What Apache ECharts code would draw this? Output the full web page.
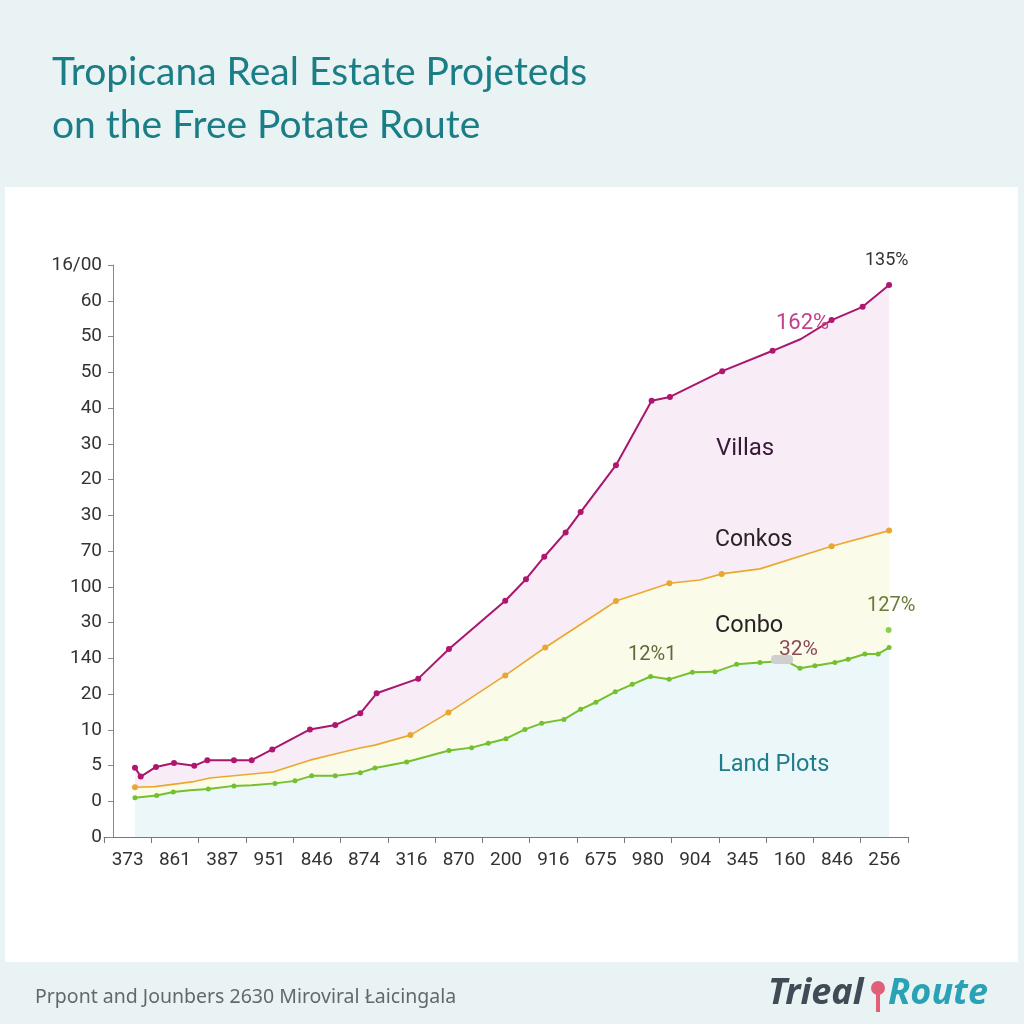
<!DOCTYPE html>
<html><head><meta charset="utf-8">
<script src="https://cdn.jsdelivr.net/npm/echarts@6/dist/echarts.min.js"></script>
<style>html,body{margin:0;padding:0;background:#eaf3f3;}#c{width:1024px;height:1024px;}</style>
</head><body><div id="c"></div>
<script>
const xLabels = ['373','861','387','951','846','874','316','870','200','916','675','980','904','345','160','846','256'];
const yLabels = ['0','0','5','10','20','140','30','100','70','30','20','30','40','50','50','60','16/00'];

// [x position in category units (0..17), value in tick units (0..16), marker 1/0]
const villas = [
 [0.655,1.94,1],[0.776,1.69,1],[1.099,1.96,1],[1.48,2.07,1],[1.909,1.99,1],[2.184,2.15,1],
 [2.748,2.15,1],[3.123,2.15,1],[3.558,2.45,1],[4.355,3.01,1],[4.89,3.13,1],[5.419,3.46,1],
 [5.765,4.02,1],[6.645,4.43,1],[7.294,5.26,1],[8.484,6.61,1],[8.922,7.21,1],[9.309,7.84,1],
 [9.761,8.52,1],[10.078,9.09,1],[10.825,10.40,1],[11.579,12.20,1],[11.966,12.31,1],
 [13.072,13.03,1],[14.137,13.60,1],[14.736,13.93,0],[15.385,14.46,1],[16.04,14.83,1],[16.60,15.44,1]
];
const condos = [
 [0.655,1.39,1],[1.078,1.41,0],[1.903,1.55,0],[2.241,1.65,0],[3.573,1.82,0],[4.355,2.15,0],
 [4.884,2.32,0],[5.412,2.49,0],[5.73,2.57,0],[6.48,2.85,1],[7.283,3.48,1],[8.484,4.52,1],
 [9.33,5.30,1],[10.486,6.30,0],[10.825,6.60,1],[11.955,7.10,1],[12.6,7.19,0],[13.06,7.36,1],
 [13.87,7.50,0],[15.385,8.13,1],[16.60,8.57,1]
];
const landPlots = [
 [0.655,1.10,1],[1.114,1.16,1],[1.465,1.26,1],[1.818,1.31,0],[2.205,1.34,1],[2.748,1.43,1],
 [3.123,1.45,0],[3.615,1.50,1],[4.038,1.57,1],[4.391,1.71,1],[4.89,1.71,1],[5.419,1.80,1],
 [5.729,1.93,1],[6.40,2.10,1],[7.294,2.42,1],[7.774,2.50,1],[8.125,2.62,1],[8.499,2.75,1],
 [8.901,3.01,1],[9.254,3.18,1],[9.725,3.29,1],[10.078,3.57,1],[10.40,3.77,1],[10.81,4.06,1],
 [11.17,4.27,1],[11.558,4.49,1],[11.95,4.41,1],[12.442,4.61,1],[12.918,4.62,1],[13.376,4.83,1],
 [13.87,4.88,1],[14.43,4.92,0],[14.715,4.72,1],[15.032,4.79,1],[15.455,4.88,1],[15.735,4.97,1],
 [16.088,5.12,1],[16.37,5.12,1],[16.60,5.30,1]
];
const landExtra = [[16.59,5.79]];

function toData(arr, size){
  return arr.map(p => ({value:[p[0],p[1]], symbolSize: p[2] ? size : 0}));
}

const chart = echarts.init(document.getElementById('c'));
const grid = {left:104, right:116, top:265, bottom:187};
const Z = 100;
chart.setOption({
  backgroundColor:'#eaf3f3',
  animation:false,
  graphic:[
    {type:'rect', z:-10, shape:{x:5,y:187,width:1013,height:775}, style:{fill:'#ffffff'}},
    {type:'text', left:52, top:53, style:{text:'Tropicana Real Estate Projeteds', fill:'#1b7d86', font:'39px Lato'}},
    {type:'text', left:52, top:106, style:{text:'on the Free Potate Route', fill:'#1b7d86', font:'39px Lato'}},
    {type:'text', left:35, top:987, style:{text:'Prpont and Jounbers 2630 Miroviral \u0141aicingala', fill:'#62686c', font:'19.5px "Noto Sans"'}},
    {type:'text', left:768, top:976, style:{text:'Trieal', fill:'#3f4c57', font:'italic bold 36px "Noto Sans"'}},
    {type:'text', left:888, top:976, style:{text:'Route', fill:'#2aa2b6', font:'italic bold 36px "Noto Sans"'}},
    {type:'circle', shape:{cx:878,cy:988,r:7}, style:{fill:'#e0607a'}},
    {type:'rect', shape:{x:876,y:993,width:4,height:19}, style:{fill:'#e0607a'}},
    {type:'text', z:Z, left:716, top:437, style:{text:'Villas', fill:'#3a1838', font:'24px Roboto'}},
    {type:'text', z:Z, left:715, top:529, style:{text:'Conkos', fill:'#2a2226', font:'23px Roboto'}},
    {type:'text', z:Z, left:715, top:614, style:{text:'Conbo', fill:'#2a2226', font:'23.5px Roboto'}},
    {type:'text', z:Z, left:718, top:753, style:{text:'Land Plots', fill:'#1f7d8a', font:'23.5px Roboto'}},
    {type:'text', z:Z, left:865, top:251, style:{text:'135%', fill:'#333333', font:'18px Roboto'}},
    {type:'text', z:Z, left:776, top:312, style:{text:'162%', fill:'#c2418a', font:'22px Roboto'}},
    {type:'text', z:Z, left:867, top:596, style:{text:'127%', fill:'#6b7a3a', font:'20px Roboto'}},
    {type:'text', z:Z, left:628, top:645, style:{text:'12%1', fill:'#5f6a35', font:'20px Roboto'}},
    {type:'rect', z:Z, shape:{x:771,y:655,width:22,height:9,r:4}, style:{fill:'#cfcfcf'}},
    {type:'text', z:Z, left:779, top:639, style:{text:'32%', fill:'#8a4a5a', font:'21px Roboto'}}
  ],
  grid: grid,
  xAxis:[
    {type:'category', data:xLabels, boundaryGap:true, position:'bottom',
     axisLine:{lineStyle:{color:'#777',width:1}}, axisTick:{show:true,length:6,lineStyle:{color:'#777'}},
     axisLabel:{color:'#333', fontSize:19, margin:14, fontFamily:'Roboto'}, splitLine:{show:false}},
    {type:'value', min:0, max:17, show:false}
  ],
  yAxis:{type:'value', min:0, max:16, interval:1, offset:-9,
    axisLine:{show:true, lineStyle:{color:'#888'}}, axisTick:{show:true,length:5,lineStyle:{color:'#888'}},
    splitLine:{show:false},
    axisLabel:{color:'#333', fontSize:19, margin:11, fontFamily:'Roboto', formatter:(v)=>yLabels[Math.round(v)]}},
  series:[
    {name:'Villas', type:'line', xAxisIndex:1, data:toData(villas,6), symbol:'circle',
     itemStyle:{color:'#b0166f'}, lineStyle:{color:'#a8176c',width:2},
     areaStyle:{color:'#f8ecf7', opacity:1, origin:'start'}, z:2},
    {name:'Condos', type:'line', xAxisIndex:1, data:toData(condos,6), symbol:'circle',
     itemStyle:{color:'#e8a730'}, lineStyle:{color:'#eaa92e',width:1.6},
     areaStyle:{color:'#fbfbea', opacity:1, origin:'start'}, z:3},
    {name:'Land Plots', type:'line', xAxisIndex:1, data:toData(landPlots,5), symbol:'circle',
     itemStyle:{color:'#74c02e'}, lineStyle:{color:'#74c02e',width:2},
     areaStyle:{color:'#ebf7f9', opacity:1, origin:'start'}, z:4},
    {name:'Land extra', type:'scatter', xAxisIndex:1, data:landExtra, symbolSize:6,
     itemStyle:{color:'#74c02e'}, z:5}
  ]
});
</script></body></html>
